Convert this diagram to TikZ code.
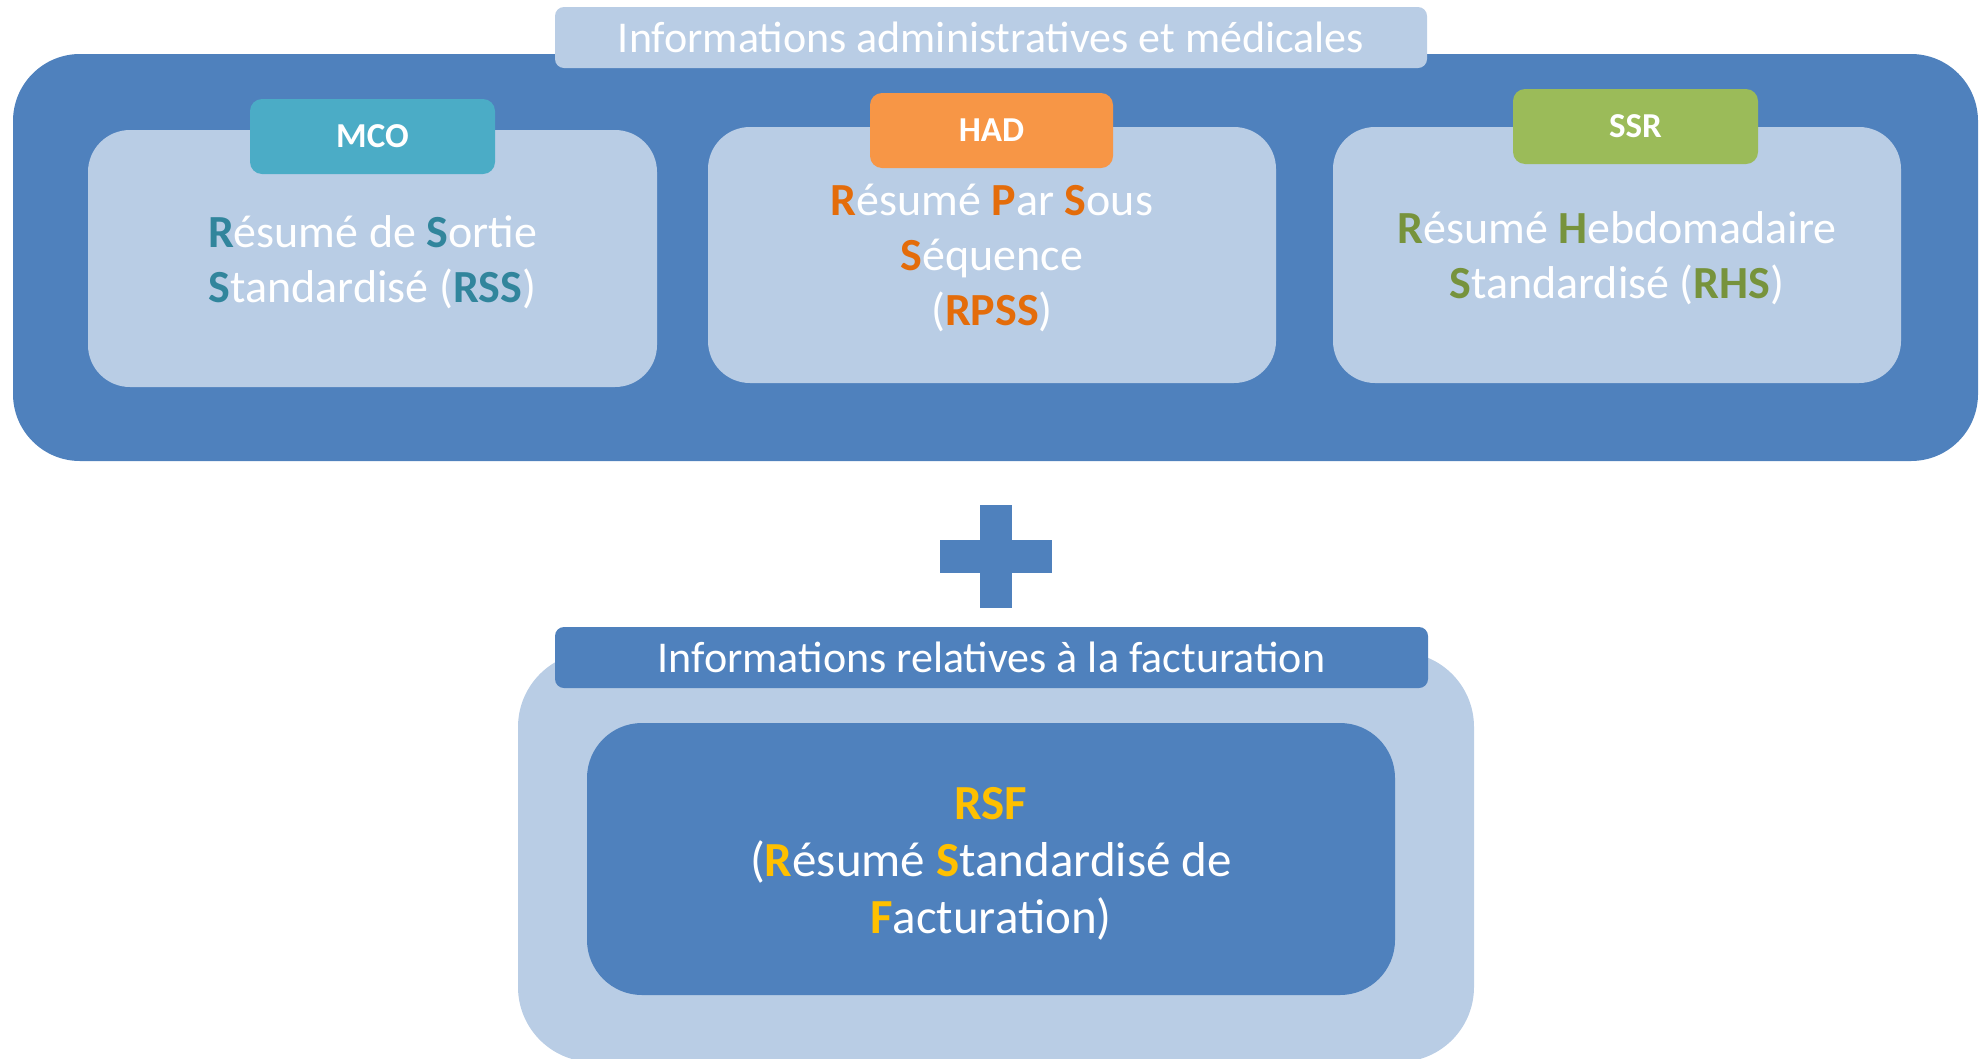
\documentclass[tikz,border=0pt]{standalone}
\usepackage{fontspec}
\setmainfont{Carlito}
\definecolor{dblue}{HTML}{4F81BD}
\definecolor{lblue}{HTML}{B9CDE5}
\definecolor{mco}{HTML}{4BACC6}
\definecolor{mcot}{HTML}{31859C}
\definecolor{had}{HTML}{F79646}
\definecolor{hadt}{HTML}{E46C0A}
\definecolor{ssr}{HTML}{9BBB59}
\definecolor{ssrt}{HTML}{77933C}
\definecolor{rsf}{HTML}{FFC000}
\newcommand{\hl}[2]{\textcolor{#1}{\textbf{#2}}}
\tikzset{
  panel/.style={rectangle, inner sep=0pt, draw=none},
  tabtxt/.style={text=white, font=\fontsize{35}{40}\selectfont\bfseries},
  headtxt/.style={text=white, font=\fontsize{44}{50}\selectfont},
  bodytxt/.style={text=white, align=center, anchor=base, font=\fontsize{46}{55}\selectfont},
}
\begin{document}
\begin{tikzpicture}[x=1pt,y=-1pt]
\useasboundingbox (0,0) rectangle (1987,1058);
% top group
\node[panel, fill=dblue, rounded corners=67pt, minimum width=1965pt, minimum height=407pt] (outer) at (995.5,257.5) {};
\node[panel, fill=lblue, rounded corners=9pt, minimum width=872pt, minimum height=61pt] (head) at (991,37.5) {};
\node[headtxt] (headt) at (head.center) {Informations administratives et médicales};
% MCO
\node[panel, fill=lblue, rounded corners=42pt, minimum width=569pt, minimum height=257pt] (mcobox) at (372.5,258.5) {};
\node[panel, fill=mco, rounded corners=12pt, minimum width=245pt, minimum height=75pt] (mcotab) at (372.5,136.5) {};
\node[tabtxt] (mcol) at (mcotab.center) {MCO};
\node[bodytxt] (mcot) at (372.5,302) {\hl{mcot}{R}ésumé de \hl{mcot}{S}ortie\\\hl{mcot}{S}tandardisé (\hl{mcot}{RSS})};
% HAD
\node[panel, fill=lblue, rounded corners=42pt, minimum width=568pt, minimum height=256pt] (hadbox) at (992,255) {};
\node[panel, fill=had, rounded corners=12pt, minimum width=243pt, minimum height=75pt] (hadtab) at (991.5,130.5) {};
\node[tabtxt] (hadl) at (hadtab.center) {HAD};
\node[bodytxt] (hadt) at (992,325) {\hl{hadt}{R}ésumé \hl{hadt}{P}ar \hl{hadt}{S}ous\\\hl{hadt}{S}équence\\(\hl{hadt}{RPSS})};
% SSR
\node[panel, fill=lblue, rounded corners=42pt, minimum width=568pt, minimum height=256pt] (ssrbox) at (1617,255) {};
\node[panel, fill=ssr, rounded corners=12pt, minimum width=245pt, minimum height=75pt] (ssrtab) at (1635.5,126.5) {};
\node[tabtxt] (ssrl) at (ssrtab.center) {SSR};
\node[bodytxt] (ssrt) at (1617,298) {\hl{ssrt}{R}ésumé \hl{ssrt}{H}ebdomadaire\\\hl{ssrt}{S}tandardisé (\hl{ssrt}{RHS})};
% plus
\node[panel, fill=dblue, minimum width=32pt, minimum height=103pt] (plusv) at (996,556.5) {};
\node[panel, fill=dblue, minimum width=112pt, minimum height=33pt] (plush) at (996,556.5) {};
% bottom group
\node[panel, fill=lblue, rounded corners=75pt, minimum width=956pt, minimum height=410pt] (bouter) at (996,857) {};
\node[panel, fill=dblue, rounded corners=9pt, minimum width=873pt, minimum height=61pt] (bhead) at (991.5,657.5) {};
\node[headtxt] (bheadt) at (bhead.center) {Informations relatives à la facturation};
\node[panel, fill=dblue, rounded corners=55pt, minimum width=808pt, minimum height=272pt] (rsfbox) at (991,859) {};
\node[bodytxt, font=\fontsize{49}{57}\selectfont] (rsft) at (991,933) {\hl{rsf}{RSF}\\(\hl{rsf}{R}ésumé \hl{rsf}{S}tandardisé de\\\hl{rsf}{F}acturation)};
\end{tikzpicture}
\end{document}
